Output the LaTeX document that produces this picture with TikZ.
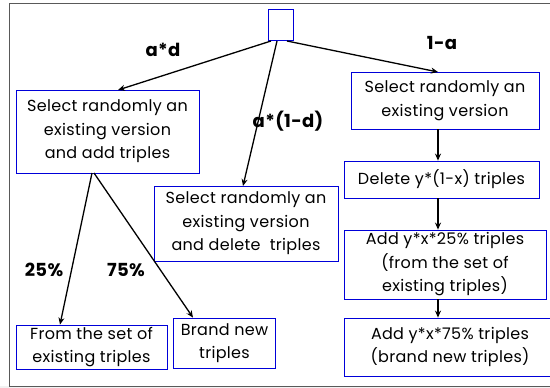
\documentclass[tikz,border=0pt]{standalone}
\usepackage{fontspec}
\setmainfont{Poppins}[LetterSpace=2]
\usetikzlibrary{arrows.meta}
\begin{document}
\begin{tikzpicture}[x=1pt,y=-1pt,
  box/.style={draw=blue!85!black, line width=0.8pt, align=center, inner sep=0pt, font=\fontsize{16}{23.5}\selectfont},
  arr/.style={-{Stealth[length=7pt,width=6pt]}, line width=1.3pt},
  lab/.style={font=\fontsize{18}{20}\selectfont\bfseries}]
\useasboundingbox (0,0) rectangle (550,388);
\fill[gray!10] (0,386) rectangle (550,388);
\draw[gray!70!black, line width=0.8pt] (9,3) rectangle (560,386);
\node[box, minimum width=25pt, minimum height=31pt] (top) at (280.5,25) {};
\node[box, minimum width=183pt, minimum height=83pt] (A) at (107.5,131.5) {Select randomly an\\existing version\\and add triples};
\node[box, minimum width=184pt, minimum height=75pt] (B) at (246,223.5) {Select randomly an\\existing version\\and delete\ \ triples};
\node[box, minimum width=188pt, minimum height=57pt] (C) at (445,100.5) {Select randomly an\\existing version};
\node[box, minimum width=195pt, minimum height=37pt] (D) at (441.5,179.5) {Delete y*(1-x) triples};
\node[box, minimum width=202pt, minimum height=69pt] (E) at (445,264.5) {Add y*x*25\% triples\\(from the set of\\existing triples)};
\node[box, minimum width=212pt, minimum height=58pt] (F) at (450,347) {Add y*x*75\% triples\\(brand new triples)};
\node[box, minimum width=151pt, minimum height=44pt] (G) at (91.5,347) {From the set of\\existing triples};
\node[box, minimum width=102pt, minimum height=50pt] (H) at (224.5,343) {Brand new\\triples};
\coordinate (t1) at (271,41);
\coordinate (t2) at (277,41);
\coordinate (t3) at (287,41);
\coordinate (a1) at (92,173);
\coordinate (a2) at (94,173);
\draw[arr] (t1) -- (118,90) coordinate (aend);
\draw[arr] (t2) -- (243,186);
\draw[arr] (t3) -- (438,72);
\draw[arr] (C.south -| 438,0) -- (D.north -| 438,0);
\draw[arr] (D.south -| 438,0) -- (E.north -| 438,0);
\draw[arr] (E.south -| 438,0) -- (F.north -| 438,0);
\draw[arr] (a1) -- (G.north -| 60,0);
\draw[arr] (a2) -- (H.north -| 193,0);
\node[lab] (l1) at (163,50) {a*d};
\node[lab] (l2) at (442,43) {1-a};
\node[lab] (l3) at (288,121) {a*(1-d)};
\node[lab] (l4) at (44,270) {25\%};
\node[lab] (l5) at (126,270) {75\%};
\end{tikzpicture}
\end{document}
